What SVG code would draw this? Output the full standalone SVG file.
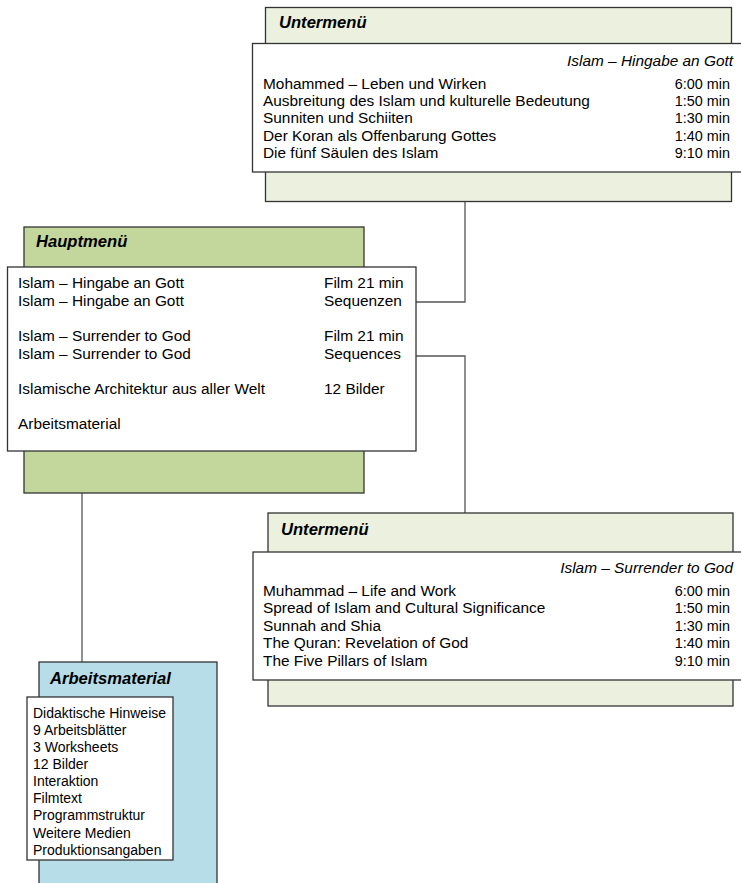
<svg xmlns="http://www.w3.org/2000/svg" width="741" height="883" viewBox="0 0 741 883">
<style>
.back{stroke:#333;stroke-width:1.3}
.g1{fill:#ebf1de}
.g2{fill:#c3d69b}
.b1{fill:#b7dde8}
.panel{fill:#fff;stroke:#333;stroke-width:1.3}
text{font-family:"Liberation Sans",Arial,sans-serif;font-size:15.4px;fill:#000}
.title{font-weight:bold;font-style:italic;font-size:16.6px}
.sub{font-style:italic}
.r{text-anchor:end}
.t{font-size:14.4px}
.s{font-size:14px}
.conn{fill:none;stroke:#555;stroke-width:1.3}
</style>
<rect width="741" height="883" fill="#fff"/>
<g id="connectors">
<path class="conn" d="M416,302 H465 V201"/>
<path class="conn" d="M416,356 H465 V513"/>
<path class="conn" d="M82,451 V662"/>
</g>
<g id="untermenu-de">
<rect class="back g1" x="265.5" y="7.5" width="466" height="194"/>
<text class="title" x="279" y="28">Untermenü</text>
<rect class="panel" x="252.5" y="43.5" width="500" height="128.5"/>
<text class="sub r" x="733" y="66">Islam – Hingabe an Gott</text>
<text x="263" y="89">Mohammed – Leben und Wirken</text>
<text x="263" y="106">Ausbreitung des Islam und kulturelle Bedeutung</text>
<text x="263" y="123">Sunniten und Schiiten</text>
<text x="263" y="141">Der Koran als Offenbarung Gottes</text>
<text x="263" y="158">Die fünf Säulen des Islam</text>
<text class="r t" x="730" y="89">6:00 min</text>
<text class="r t" x="730" y="106">1:50 min</text>
<text class="r t" x="730" y="123">1:30 min</text>
<text class="r t" x="730" y="141">1:40 min</text>
<text class="r t" x="730" y="158">9:10 min</text>
</g>
<g id="hauptmenu">
<rect class="back g2" x="24" y="227" width="340" height="266"/>
<text class="title" x="36" y="247">Hauptmenü</text>
<rect class="panel" x="7.5" y="267" width="408.5" height="184"/>
<text x="18" y="288">Islam – Hingabe an Gott</text>
<text x="18" y="306">Islam – Hingabe an Gott</text>
<text x="18" y="341">Islam – Surrender to God</text>
<text x="18" y="359">Islam – Surrender to God</text>
<text x="18" y="394">Islamische Architektur aus aller Welt</text>
<text x="18" y="429">Arbeitsmaterial</text>
<text x="324" y="288">Film 21 min</text>
<text x="324" y="306">Sequenzen</text>
<text x="324" y="341">Film 21 min</text>
<text x="324" y="359">Sequences</text>
<text x="324" y="394">12 Bilder</text>
</g>
<g id="untermenu-en">
<rect class="back g1" x="268" y="513" width="465" height="193"/>
<text class="title" x="281" y="535">Untermenü</text>
<rect class="panel" x="253" y="552" width="500" height="128"/>
<text class="sub r" x="733" y="573">Islam – Surrender to God</text>
<text x="263" y="596">Muhammad – Life and Work</text>
<text x="263" y="613">Spread of Islam and Cultural Significance</text>
<text x="263" y="631">Sunnah and Shia</text>
<text x="263" y="648">The Quran: Revelation of God</text>
<text x="263" y="666">The Five Pillars of Islam</text>
<text class="r t" x="730" y="596">6:00 min</text>
<text class="r t" x="730" y="613">1:50 min</text>
<text class="r t" x="730" y="631">1:30 min</text>
<text class="r t" x="730" y="648">1:40 min</text>
<text class="r t" x="730" y="666">9:10 min</text>
</g>
<g id="arbeitsmaterial">
<rect class="back b1" x="39" y="662" width="178" height="240"/>
<text class="title" x="50" y="684">Arbeitsmaterial</text>
<rect class="panel" x="27" y="697" width="146" height="163"/>
<text class="s" x="33" y="718">Didaktische Hinweise</text>
<text class="s" x="33" y="735">9 Arbeitsblätter</text>
<text class="s" x="33" y="752">3 Worksheets</text>
<text class="s" x="33" y="769">12 Bilder</text>
<text class="s" x="33" y="786">Interaktion</text>
<text class="s" x="33" y="803">Filmtext</text>
<text class="s" x="33" y="820">Programmstruktur</text>
<text class="s" x="33" y="838">Weitere Medien</text>
<text class="s" x="33" y="855">Produktionsangaben</text>
</g>
</svg>
